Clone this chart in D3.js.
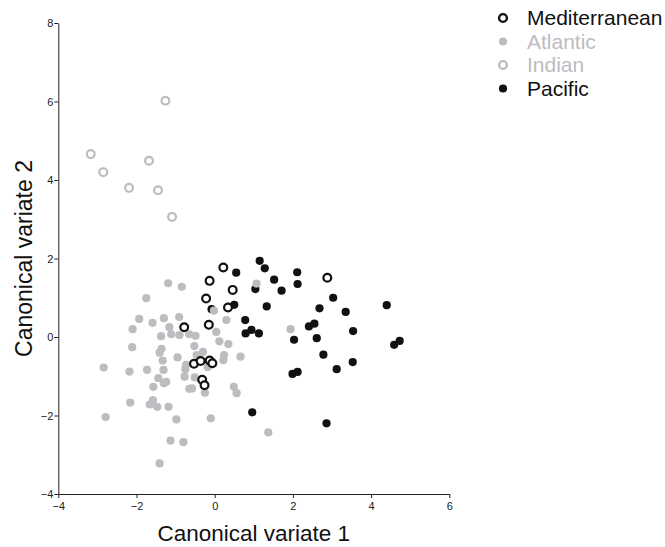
<!DOCTYPE html>
<html>
<head>
<meta charset="utf-8">
<script src="https://cdn.jsdelivr.net/npm/d3@7"></script>
<style>
  body { margin: 0; background: #fff; }
  svg { display: block; font-family: "Liberation Sans", Arial, sans-serif; }
</style>
</head>
<body>
<svg id="chart" width="665" height="547"></svg>
<script>
// ---- Data ----
const seriesNames = ["Mediterranean", "Atlantic", "Indian", "Pacific"];

const mediterranean = [
  [-0.13, 1.43], [0.22, 1.77], [0.46, 1.20], [-0.22, 0.98], [0.34, 0.75],
  [-0.78, 0.25], [-0.15, 0.31], [-0.53, -0.68], [-0.36, -0.61], [-0.13, -0.60],
  [-0.06, -0.67], [-0.32, -1.09], [-0.26, -1.23], [2.88, 1.51]
];

const indian = [
  [-3.17, 4.66], [-2.85, 4.20], [-1.68, 4.49], [-2.19, 3.80],
  [-1.45, 3.74], [-1.09, 3.06], [-1.26, 6.02]
];

const pacific = [
  [1.15, 1.94], [1.28, 1.75], [2.11, 1.65], [1.52, 1.46], [2.12, 1.35],
  [1.04, 1.22], [1.71, 1.18], [3.03, 1.00], [1.33, 0.78], [2.68, 0.73],
  [3.35, 0.64], [4.40, 0.81], [0.78, 0.43], [0.94, 0.18], [0.79, 0.09],
  [1.13, 0.09], [2.41, 0.27], [2.55, 0.34], [3.54, 0.15], [2.03, -0.07],
  [2.61, -0.03], [4.59, -0.20], [4.73, -0.10], [2.78, -0.45], [3.53, -0.64],
  [3.12, -0.82], [1.99, -0.94], [2.12, -0.89], [0.96, -1.92], [2.86, -2.20],
  [0.55, 1.64], [-0.08, 0.71], [0.50, 0.82]
];

const atlantic = [
  [-1.19, 1.37], [-0.84, 1.28], [1.07, 1.36], [-1.75, 0.99], [-0.02, 0.67],
  [-1.93, 0.46], [-1.59, 0.36], [-1.30, 0.48], [-0.91, 0.51], [-1.16, 0.25],
  [0.30, 0.43], [-2.10, 0.20], [-1.11, 0.07], [-1.37, 0.02], [-0.90, 0.05],
  [-0.65, 0.07], [-0.49, 0.03], [0.04, 0.13], [0.12, -0.11], [0.35, -0.18],
  [-2.11, -0.26], [-1.36, -0.30], [-1.41, -0.40], [-0.52, -0.23], [-0.30, -0.38],
  [-0.95, -0.52], [-1.33, -0.60], [0.24, -0.46], [0.66, -0.50], [0.22, -0.59],
  [-2.84, -0.78], [-2.18, -0.88], [-1.73, -0.84], [-1.31, -0.84], [-0.73, -0.71],
  [-0.75, -0.82], [-0.18, -0.77], [-1.44, -1.05], [-1.30, -1.18], [-1.24, -1.14],
  [-0.77, -1.01], [-0.51, -1.03], [-1.57, -1.27], [-0.65, -1.32], [-0.58, -1.31],
  [-0.25, -1.42], [0.49, -1.27], [0.56, -1.43], [-2.16, -1.67], [-1.58, -1.61],
  [-1.66, -1.72], [-1.47, -1.78], [-1.18, -1.78], [-2.79, -2.04], [-0.98, -2.10],
  [-0.10, -2.07], [-1.13, -2.64], [-0.80, -2.68], [-1.41, -3.22], [1.37, -2.43],
  [1.94, 0.20], [-0.46, -0.46]
];

const xTicks = [-4, -2, 0, 2, 4, 6];
const yTicks = [-4, -2, 0, 2, 4, 6, 8];
const xLabel = "Canonical variate 1";
const yLabel = "Canonical variate 2";

// ---- Styles ----
const BLACK = "#111111";
const GRAY = "#bcbcc1";
const styles = {
  Mediterranean: { fill: "#ffffff", stroke: BLACK, text: BLACK, open: true },
  Atlantic:      { fill: GRAY, stroke: "none", text: GRAY, open: false },
  Indian:        { fill: "#ffffff", stroke: GRAY, text: GRAY, open: true },
  Pacific:       { fill: BLACK, stroke: "none", text: BLACK, open: false }
};
const dataBy = { Mediterranean: mediterranean, Atlantic: atlantic, Indian: indian, Pacific: pacific };

// ---- Layout ----
const svg = d3.select("#chart");
const x = d3.scaleLinear().domain([-4, 6]).range([58.3, 449.3]);
const y = d3.scaleLinear().domain([-4, 8]).range([494, 23]);

// axes
const xAxis = d3.axisBottom(x).tickValues(xTicks).tickSize(4).tickSizeOuter(0).tickFormat(d3.format("d"));
const yAxis = d3.axisLeft(y).tickValues(yTicks).tickSize(4).tickSizeOuter(0).tickFormat(d3.format("d"));

const gx = svg.append("g").attr("transform", `translate(0,${y(-4)})`).call(xAxis);
const gy = svg.append("g").attr("transform", `translate(${x(-4)},0)`).call(yAxis);
[gx, gy].forEach(g => {
  g.select(".domain").attr("stroke", "#222").attr("stroke-width", 1);
  g.selectAll(".tick line").attr("stroke", "#222");
  g.selectAll(".tick text").attr("fill", "#222").style("font-size", "11px")
    .style("font-family", "'Liberation Sans', Arial, sans-serif");
});
gx.selectAll(".tick text").attr("dy", "0.95em").attr("y", 6);
gy.selectAll(".tick text").attr("x", -5);

// axis titles
svg.append("text")
  .attr("x", (x(-4) + x(6)) / 2)
  .attr("y", 541)
  .attr("text-anchor", "middle")
  .attr("fill", BLACK)
  .style("font-size", "22.5px")
  .text(xLabel);

svg.append("text")
  .attr("transform", `translate(32,${(y(-4) + y(8)) / 2}) rotate(-90)`)
  .attr("text-anchor", "middle")
  .attr("fill", BLACK)
  .style("font-size", "23px")
  .text(yLabel);

// points
const drawOrder = ["Pacific", "Atlantic", "Mediterranean", "Indian"];
drawOrder.forEach(name => {
  const st = styles[name];
  svg.append("g").selectAll("circle")
    .data(dataBy[name])
    .join("circle")
    .attr("cx", d => x(d[0]))
    .attr("cy", d => y(d[1]))
    .attr("r", st.open ? 3.9 : 4.1)
    .attr("fill", st.fill)
    .attr("stroke", st.stroke)
    .attr("stroke-width", st.open ? 2.2 : 0);
});

// legend
const legend = svg.append("g").attr("transform", "translate(503,18)");
seriesNames.forEach((name, i) => {
  const st = styles[name];
  const row = legend.append("g").attr("transform", `translate(0,${i * 23.5})`);
  row.append("circle")
    .attr("r", st.open ? 3.9 : 4.1)
    .attr("fill", st.fill)
    .attr("stroke", st.stroke)
    .attr("stroke-width", st.open ? 2.4 : 0);
  row.append("text")
    .attr("x", 24)
    .attr("dy", "0.35em")
    .attr("fill", st.text)
    .style("font-size", "21px")
    .text(name);
});
</script>
</body>
</html>
